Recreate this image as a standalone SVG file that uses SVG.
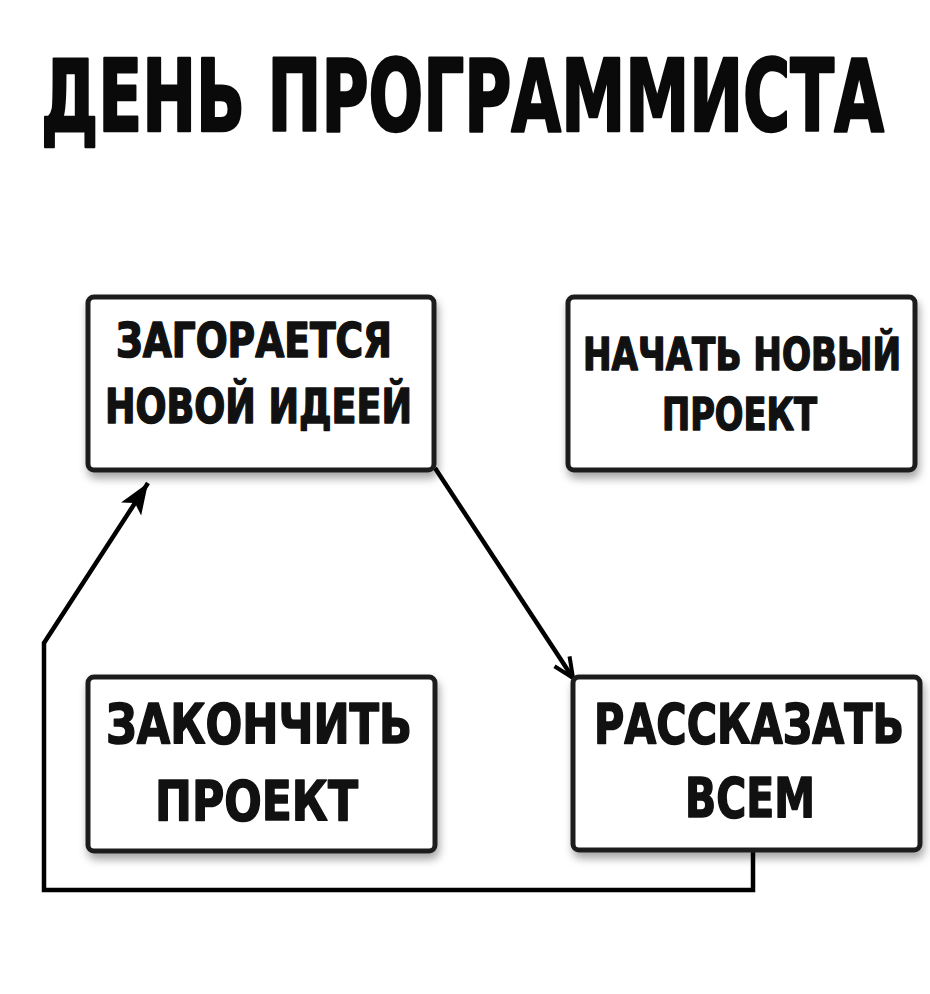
<svg xmlns="http://www.w3.org/2000/svg" width="930" height="994" viewBox="0 0 930 994">
  <defs>
    <filter id="shadow" x="-10%" y="-10%" width="130%" height="140%">
      <feDropShadow dx="2" dy="6" stdDeviation="4" flood-color="#000" flood-opacity="0.35"/>
    </filter>
    <marker id="filled" markerUnits="userSpaceOnUse" markerWidth="36" markerHeight="28" refX="31" refY="12" orient="auto">
      <path d="M0,0 L31,12 L0,24 L7,12 Z" fill="#000"/>
    </marker>
    <marker id="open" markerUnits="userSpaceOnUse" markerWidth="30" markerHeight="26" refX="22" refY="11" orient="auto">
      <path d="M2,2 L22,11 L2,20" fill="none" stroke="#000" stroke-width="4" stroke-linejoin="miter"/>
    </marker>
    <style>
      .box { fill: #fff; stroke: #1e1e1e; stroke-width: 5; }
      .lbl { font-family: "DejaVu Sans Condensed", "DejaVu Sans", sans-serif; font-weight: bold; fill: #111; stroke: #111; stroke-width: 1.5; stroke-linejoin: round; }
      .title { font-family: "DejaVu Sans Condensed", "DejaVu Sans", sans-serif; font-weight: bold; fill: #0a0a0a; stroke: #0a0a0a; stroke-width: 2.5; stroke-linejoin: round; }
      .conn { fill: none; stroke: #000; stroke-width: 4.5; }
    </style>
  </defs>
  <rect width="930" height="994" fill="#fff"/>

  <g id="title">
    <text class="title" x="41" y="131" font-size="100" textLength="843" lengthAdjust="spacingAndGlyphs">ДЕНЬ ПРОГРАММИСТА</text>
  </g>

  <g id="connectors">
    <line class="conn" x1="435" y1="468" x2="573" y2="678" marker-end="url(#open)"/>
    <polyline class="conn" points="753,852 753,890 44,890 44,643 148,483" marker-end="url(#filled)"/>
  </g>

  <g id="node-idea">
    <rect class="box" x="88" y="297" width="346" height="173" rx="6" filter="url(#shadow)"/>
    <text class="lbl" x="116" y="357" font-size="48" textLength="276" lengthAdjust="spacingAndGlyphs">ЗАГОРАЕТСЯ</text>
    <text class="lbl" x="105" y="423" font-size="48" textLength="307" lengthAdjust="spacingAndGlyphs">НОВОЙ ИДЕЕЙ</text>
  </g>

  <g id="node-start">
    <rect class="box" x="568" y="297" width="347" height="173" rx="6" filter="url(#shadow)"/>
    <text class="lbl" x="583" y="370" font-size="45" textLength="318" lengthAdjust="spacingAndGlyphs">НАЧАТЬ НОВЫЙ</text>
    <text class="lbl" x="662" y="430" font-size="45" textLength="155" lengthAdjust="spacingAndGlyphs">ПРОЕКТ</text>
  </g>

  <g id="node-finish">
    <rect class="box" x="88" y="677" width="347" height="174" rx="6" filter="url(#shadow)"/>
    <text class="lbl" x="106" y="743" font-size="56" textLength="306" lengthAdjust="spacingAndGlyphs">ЗАКОНЧИТЬ</text>
    <text class="lbl" x="155" y="820" font-size="56" textLength="203" lengthAdjust="spacingAndGlyphs">ПРОЕКТ</text>
  </g>

  <g id="node-tell">
    <rect class="box" x="573" y="677" width="347" height="173" rx="6" filter="url(#shadow)"/>
    <text class="lbl" x="594" y="743" font-size="55" textLength="310" lengthAdjust="spacingAndGlyphs">РАССКАЗАТЬ</text>
    <text class="lbl" x="685" y="817" font-size="55" textLength="130" lengthAdjust="spacingAndGlyphs">ВСЕМ</text>
  </g>
</svg>
